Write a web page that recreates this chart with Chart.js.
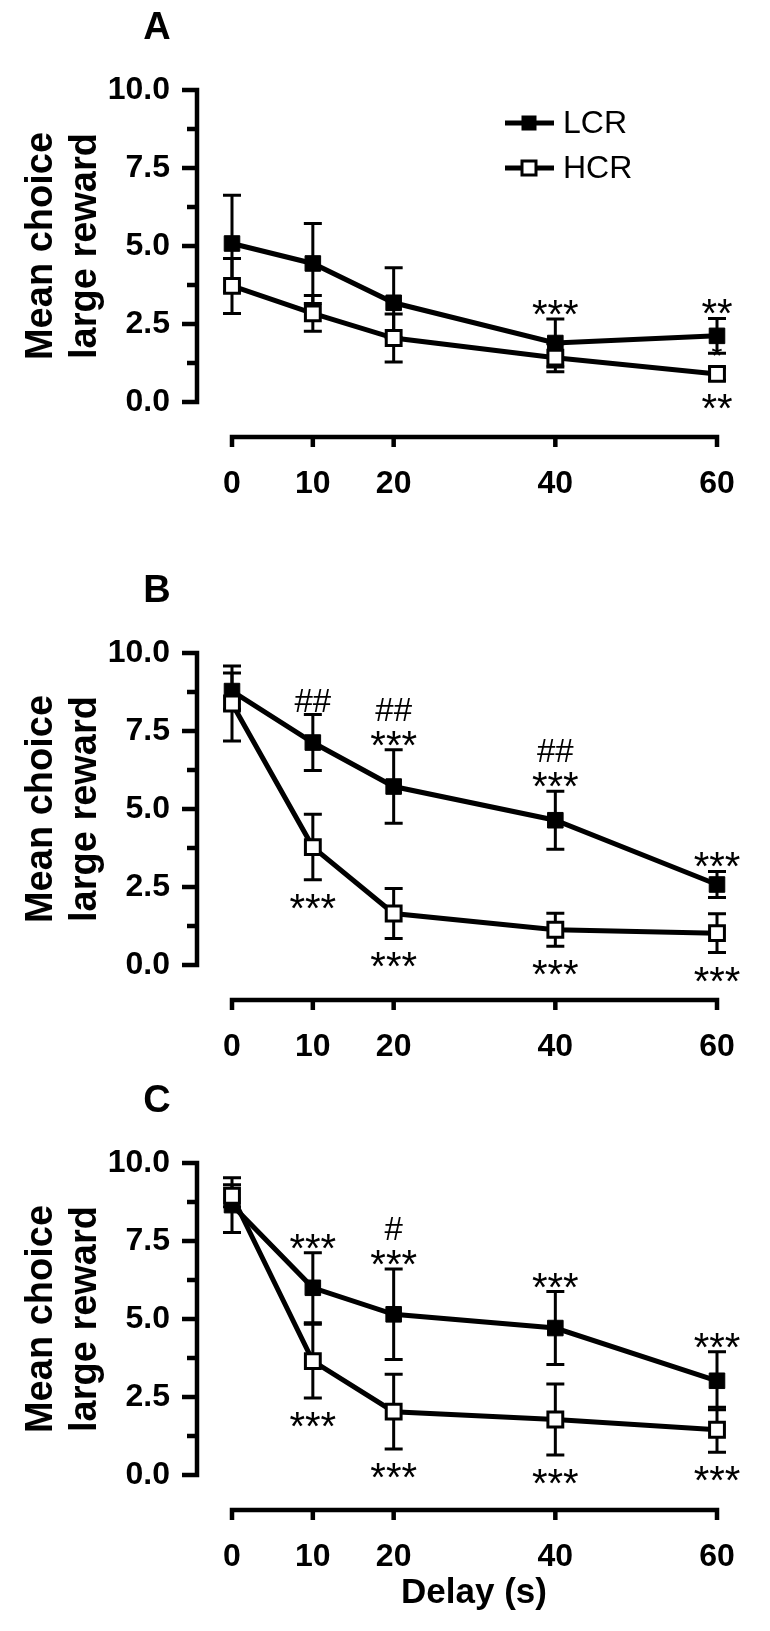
<!DOCTYPE html>
<html>
<head>
<meta charset="utf-8">
<script src="https://cdn.jsdelivr.net/npm/chart.js@4.4.1/dist/chart.umd.min.js"></script>
<style>
  html, body { margin: 0; padding: 0; background: #fff; }
  #wrap { position: relative; width: 770px; height: 1631px; }
  canvas { position: absolute; left: 0; }
</style>
</head>
<body>
<div id="wrap">
  <canvas id="panel-a" width="770" height="520" style="top:0px"></canvas>
  <canvas id="panel-b" width="770" height="510" style="top:563px"></canvas>
  <canvas id="panel-c" width="770" height="558" style="top:1073px"></canvas>
</div>
<script>
// ---- data ----
const delays = [0, 10, 20, 40, 60];
const xTickValues = [0, 10, 20, 40, 60];
const yTickValues = [0, 2.5, 5, 7.5, 10];
const yMinorTicks = [1.25, 3.75, 6.25, 8.75];
const seriesNames = ['LCR', 'HCR'];

// panel A
const lcrA = [5.08, 4.44, 3.18, 1.89, 2.12];
const lcrAErr = [1.55, 1.28, 1.12, 0.77, 0.56];
const hcrA = [3.72, 2.84, 2.05, 1.42, 0.90];
const hcrAErr = [0.88, 0.57, 0.77, 0.45, 0.20];

// panel B
const lcrB = [8.78, 7.13, 5.72, 4.64, 2.58];
const lcrBErr = [0.58, 0.90, 1.18, 0.93, 0.42];
const hcrB = [8.38, 3.78, 1.65, 1.13, 1.02];
const hcrBErr = [1.20, 1.05, 0.80, 0.53, 0.62];

// panel C
const lcrC = [8.65, 6.00, 5.15, 4.71, 3.02];
const lcrCErr = [0.88, 1.12, 1.45, 1.17, 0.93];
const hcrC = [8.95, 3.65, 2.03, 1.78, 1.45];
const hcrCErr = [0.35, 1.18, 1.20, 1.14, 0.72];

// significance marks: delay, series, where, text
const notesA = [
  [40, 'LCR', 'above', '***'], [60, 'LCR', 'above', '**'],
  [60, 'LCR', 'inside', '*'], [60, 'HCR', 'below', '**']
];
const notesB = [
  [10, 'LCR', 'above', '##'], [20, 'LCR', 'above2', '##'], [20, 'LCR', 'above', '***'],
  [40, 'LCR', 'above2', '##'], [40, 'LCR', 'above', '***'], [60, 'LCR', 'above', '***'],
  [10, 'HCR', 'below', '***'], [20, 'HCR', 'below', '***'],
  [40, 'HCR', 'below', '***'], [60, 'HCR', 'below', '***']
];
const notesC = [
  [10, 'LCR', 'above', '***'], [20, 'LCR', 'above2', '#'], [20, 'LCR', 'above', '***'],
  [40, 'LCR', 'above', '***'], [60, 'LCR', 'above', '***'],
  [10, 'HCR', 'below', '***'], [20, 'HCR', 'below', '***'],
  [40, 'HCR', 'below', '***'], [60, 'HCR', 'below', '***']
];

const FONT = "'Liberation Sans', Arial, Helvetica, sans-serif";

const toPoints = (vals) => delays.map((d, i) => ({ x: d, y: vals[i] }));

// Prism-style detached axes, error bars, marks, labels
const prismPlugin = {
  id: 'prism',
  beforeDatasetsDraw(chart) {
    const { ctx, chartArea } = chart;
    const { x, y } = chart.scales;
    ctx.save();
    ctx.strokeStyle = '#000';
    ctx.lineWidth = 4.5;
    ctx.lineCap = 'butt';
    ctx.lineJoin = 'miter';

    // y axis
    const ax = chartArea.left;
    const y0 = y.getPixelForValue(0), y10 = y.getPixelForValue(10);
    ctx.beginPath();
    ctx.moveTo(ax - 15, y10); ctx.lineTo(ax, y10); ctx.lineTo(ax, y0); ctx.lineTo(ax - 15, y0);
    ctx.stroke();
    ctx.beginPath();
    yTickValues.slice(1, -1).forEach(v => {
      const py = y.getPixelForValue(v);
      ctx.moveTo(ax, py); ctx.lineTo(ax - 15, py);
    });
    yMinorTicks.forEach(v => {
      const py = y.getPixelForValue(v);
      ctx.moveTo(ax, py); ctx.lineTo(ax - 10, py);
    });
    ctx.stroke();

    // x axis
    const by = chartArea.bottom;
    const x0 = x.getPixelForValue(xTickValues[0]);
    const xN = x.getPixelForValue(xTickValues[xTickValues.length - 1]);
    ctx.beginPath();
    ctx.moveTo(x0, by + 10); ctx.lineTo(x0, by); ctx.lineTo(xN, by); ctx.lineTo(xN, by + 10);
    ctx.stroke();
    ctx.beginPath();
    xTickValues.slice(1, -1).forEach(v => {
      const px = x.getPixelForValue(v);
      ctx.moveTo(px, by); ctx.lineTo(px, by + 10);
    });
    ctx.stroke();

    // error bars (under lines and markers)
    ctx.lineWidth = 3;
    chart.data.datasets.forEach(ds => {
      ds.data.forEach((p, i) => {
        const e = ds.errors[i];
        const px = x.getPixelForValue(p.x);
        const top = y.getPixelForValue(p.y + e);
        const bot = y.getPixelForValue(p.y - e);
        ctx.beginPath();
        ctx.moveTo(px, top); ctx.lineTo(px, bot);
        ctx.moveTo(px - 9, top); ctx.lineTo(px + 9, top);
        ctx.moveTo(px - 9, bot); ctx.lineTo(px + 9, bot);
        ctx.stroke();
      });
    });
    ctx.restore();
  },
  afterDatasetsDraw(chart, args, opts) {
    const { ctx } = chart;
    const { x, y } = chart.scales;
    ctx.save();
    ctx.fillStyle = '#000';
    ctx.textAlign = 'center';
    ctx.textBaseline = 'alphabetic';
    (opts.notes || []).forEach(([d, name, where, text]) => {
      const ds = chart.data.datasets.find(s => s.label === name);
      const i = delays.indexOf(d);
      const m = ds.data[i].y, e = ds.errors[i];
      const px = x.getPixelForValue(d);
      let cy;
      if (where === 'above') cy = y.getPixelForValue(m + e) - 14;
      else if (where === 'above2') cy = y.getPixelForValue(m + e) - 41;
      else if (where === 'below') cy = y.getPixelForValue(m - e) + 19;
      else cy = y.getPixelForValue(m) + 13;
      const hash = text.includes('#');
      const size = hash ? 33 : (where === 'inside' ? 28 : 40);
      ctx.font = `${size}px ${FONT}`;
      ctx.fillText(text, px, cy + (hash ? 0.36 : 0.575) * size);
    });
    ctx.restore();
  },
  afterDraw(chart, args, opts) {
    const { ctx } = chart;
    const { y } = chart.scales;
    ctx.save();
    ctx.fillStyle = '#000';

    // panel letter
    ctx.font = `bold 38px ${FONT}`;
    ctx.textAlign = 'center';
    ctx.textBaseline = 'middle';
    ctx.fillText(opts.letter, 157, 29);

    // y title, two lines
    const cy = y.getPixelForValue(5);
    ctx.font = `bold 38px ${FONT}`;
    ctx.textBaseline = 'alphabetic';
    ['Mean choice', 'large reward'].forEach((t, k) => {
      ctx.save();
      ctx.translate(k === 0 ? 52 : 96, cy);
      ctx.rotate(-Math.PI / 2);
      ctx.fillText(t, 0, 0);
      ctx.restore();
    });

    // x title
    if (opts.xTitle) {
      ctx.font = `bold 35px ${FONT}`;
      ctx.textBaseline = 'middle';
      ctx.fillText(opts.xTitle, 474, 520);
    }

    // legend
    if (opts.legend) {
      chart.data.datasets.forEach((ds, k) => {
        const ly = k === 0 ? 123 : 168;
        ctx.strokeStyle = '#000';
        ctx.lineWidth = 5;
        ctx.beginPath(); ctx.moveTo(505, ly); ctx.lineTo(554, ly); ctx.stroke();
        if (ds.pointBackgroundColor === '#000') {
          ctx.fillRect(529 - 7.5, ly - 7.5, 15, 15);
        } else {
          ctx.fillStyle = '#fff';
          ctx.fillRect(529 - 7, ly - 7, 14, 14);
          ctx.lineWidth = 3;
          ctx.strokeRect(529 - 7, ly - 7, 14, 14);
          ctx.fillStyle = '#000';
        }
        ctx.font = `32px ${FONT}`;
        ctx.textAlign = 'left';
        ctx.textBaseline = 'middle';
        ctx.fillText(ds.label, 563, ly + 1);
      });
    }
    ctx.restore();
  }
};

function makePanel(id, letter, lcr, lcrErr, hcr, hcrErr, notes, extra) {
  const canvas = document.getElementById(id);
  const H = canvas.height;
  return new Chart(canvas, {
    type: 'line',
    data: {
      datasets: [
        {
          label: seriesNames[0], data: toPoints(lcr), errors: lcrErr,
          borderColor: '#000', borderWidth: 5, tension: 0, clip: false, order: 1,
          pointStyle: 'rect', pointRadius: 11, pointBorderWidth: 1,
          pointBackgroundColor: '#000', pointBorderColor: '#000'
        },
        {
          label: seriesNames[1], data: toPoints(hcr), errors: hcrErr,
          borderColor: '#000', borderWidth: 5, tension: 0, clip: false, order: 0,
          pointStyle: 'rect', pointRadius: 10.5, pointBorderWidth: 3,
          pointBackgroundColor: '#fff', pointBorderColor: '#000'
        }
      ]
    },
    options: {
      responsive: false, animation: false, devicePixelRatio: 1,
      layout: { padding: { top: 90, right: 53, left: 0, bottom: 0 } },
      plugins: {
        legend: { display: false }, tooltip: { enabled: false },
        prism: Object.assign({ letter, notes }, extra)
      },
      scales: {
        x: {
          type: 'linear', min: -4.33, max: 60,
          afterBuildTicks: s => { s.ticks = xTickValues.map(v => ({ value: v })); },
          afterFit: s => { s.height = H - 437; },
          grid: { display: false }, border: { display: false },
          ticks: { color: '#000', padding: 20, maxRotation: 0, autoSkip: false,
                   font: { family: FONT, size: 32, weight: 'bold' } }
        },
        y: {
          type: 'linear', min: -1.122, max: 10,
          afterBuildTicks: s => { s.ticks = yTickValues.map(v => ({ value: v })); },
          afterFit: s => { s.width = 197; },
          grid: { display: false }, border: { display: false },
          ticks: { color: '#000', padding: 19, callback: v => v.toFixed(1),
                   font: { family: FONT, size: 32, weight: 'bold' } }
        }
      }
    },
    plugins: [prismPlugin]
  });
}

makePanel('panel-a', 'A', lcrA, lcrAErr, hcrA, hcrAErr, notesA, { legend: true });
makePanel('panel-b', 'B', lcrB, lcrBErr, hcrB, hcrBErr, notesB, {});
makePanel('panel-c', 'C', lcrC, lcrCErr, hcrC, hcrCErr, notesC, { xTitle: 'Delay (s)' });
</script>
</body>
</html>
